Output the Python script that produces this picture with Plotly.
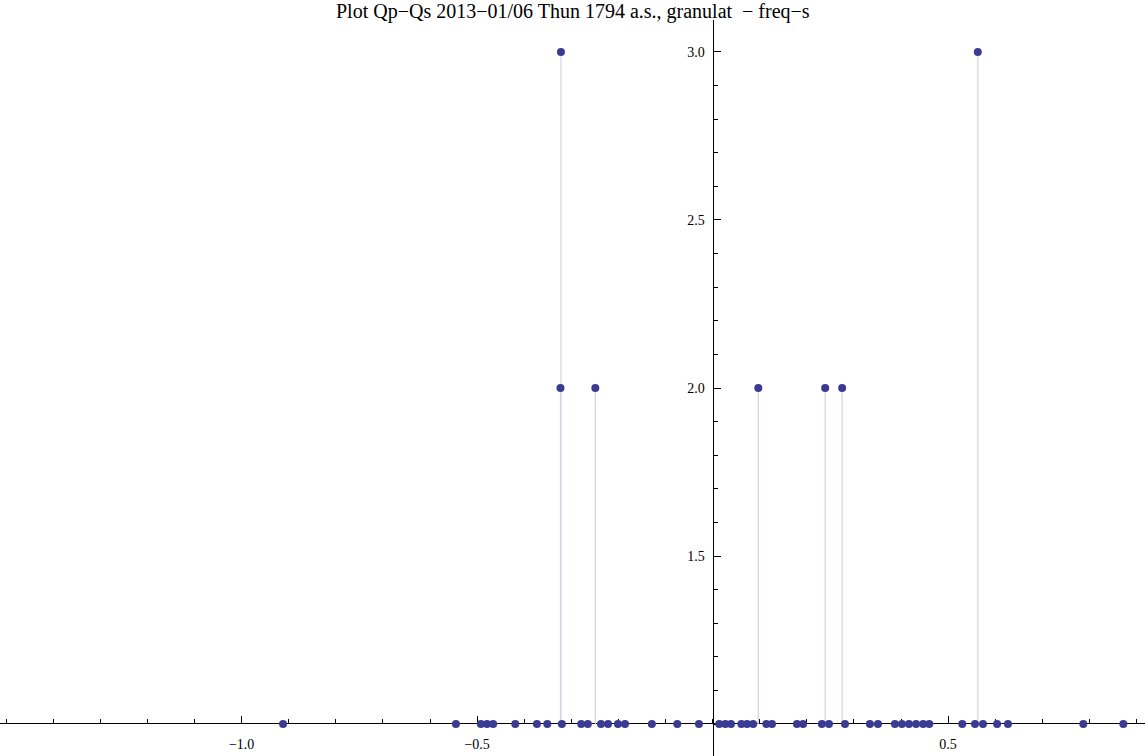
import plotly.graph_objects as go

# Qp - Qs differences and how many times each one occurs
qs_freq1 = [-0.912, -0.545, -0.492, -0.479, -0.466, -0.419, -0.373, -0.351, -0.320,
            -0.279, -0.265, -0.237, -0.222, -0.201, -0.186, -0.129, -0.075, -0.029,
            0.014, 0.027, 0.039, 0.061, 0.073, 0.086, 0.114, 0.126, 0.179, 0.192,
            0.232, 0.247, 0.281, 0.334, 0.351, 0.387, 0.402, 0.417, 0.432, 0.447,
            0.460, 0.530, 0.557, 0.574, 0.604, 0.627, 0.787, 0.872]
qs_freq2 = [-0.323, -0.249, 0.097, 0.239, 0.275]
qs_freq3 = [-0.322, 0.563]

x_ticks = [-1.0, -0.5, 0.5]
x_tick_text = ["\u22121.0", "\u22120.5", "0.5"]
y_ticks = [1.5, 2.0, 2.5, 3.0]
y_tick_text = ["1.5", "2.0", "2.5", "3.0"]

title_text = "Plot Qp\u2212Qs 2013\u221201/06 Thun 1794 a.s., granulat  \u2212 freq\u2212s"

xs = qs_freq1 + qs_freq2 + qs_freq3
ys = [1] * len(qs_freq1) + [2] * len(qs_freq2) + [3] * len(qs_freq3)

# filling from each point down to the axis (y = 1)
stem_x, stem_y = [], []
for x, y in zip(xs, ys):
    stem_x += [x, x, None]
    stem_y += [1, y, None]

W, H = 1145, 756
x_range = [-1.513, 0.918]
y_range = [0.905, 3.095]

fig = go.Figure()
fig.add_trace(go.Scatter(x=stem_x, y=stem_y, mode="lines",
                         line=dict(color="#d2d2e8", width=1.2),
                         hoverinfo="skip", showlegend=False))
fig.add_trace(go.Scatter(x=xs, y=ys, mode="markers",
                         marker=dict(color="#3b3b94", size=8),
                         showlegend=False))

serif = "Liberation Serif"
x_axis_pos = (1 - y_range[0]) / (y_range[1] - y_range[0])
y_axis_pos = (0 - x_range[0]) / (x_range[1] - x_range[0])

fig.update_layout(
    width=W, height=H,
    margin=dict(l=0, r=0, t=0, b=0),
    paper_bgcolor="white", plot_bgcolor="white",
    xaxis=dict(range=x_range, domain=[0, 1], showgrid=False, zeroline=False,
               showline=True, linecolor="black", linewidth=1,
               anchor="free", position=x_axis_pos, layer="below traces",
               ticks="inside", ticklen=7, tickcolor="black", tickwidth=1,
               tickmode="array", tickvals=x_ticks, ticktext=x_tick_text,
               ticklabelstandoff=8,
               tickfont=dict(family=serif, size=14, color="black"),
               minor=dict(ticks="inside", ticklen=4, tickcolor="black",
                          tickmode="linear", tick0=0, dtick=0.1, showgrid=False)),
    yaxis=dict(range=y_range, domain=[0, 1 - 20 / H], showgrid=False, zeroline=False,
               showline=True, linecolor="black", linewidth=1,
               anchor="free", position=y_axis_pos, layer="below traces",
               ticks="inside", ticklen=7, tickcolor="black", tickwidth=1,
               tickmode="array", tickvals=y_ticks, ticktext=y_tick_text,
               ticklabelstandoff=5,
               tickfont=dict(family=serif, size=14, color="black"),
               minor=dict(ticks="inside", ticklen=4, tickcolor="black",
                          tickmode="linear", tick0=0, dtick=0.1, showgrid=False)),
    annotations=[dict(text=title_text, x=0.5, y=1 - 12 / H, xref="paper", yref="paper",
                      xanchor="center", yanchor="middle", showarrow=False,
                      font=dict(family=serif, size=20, color="black"))],
)

fig.write_html("out.html")
